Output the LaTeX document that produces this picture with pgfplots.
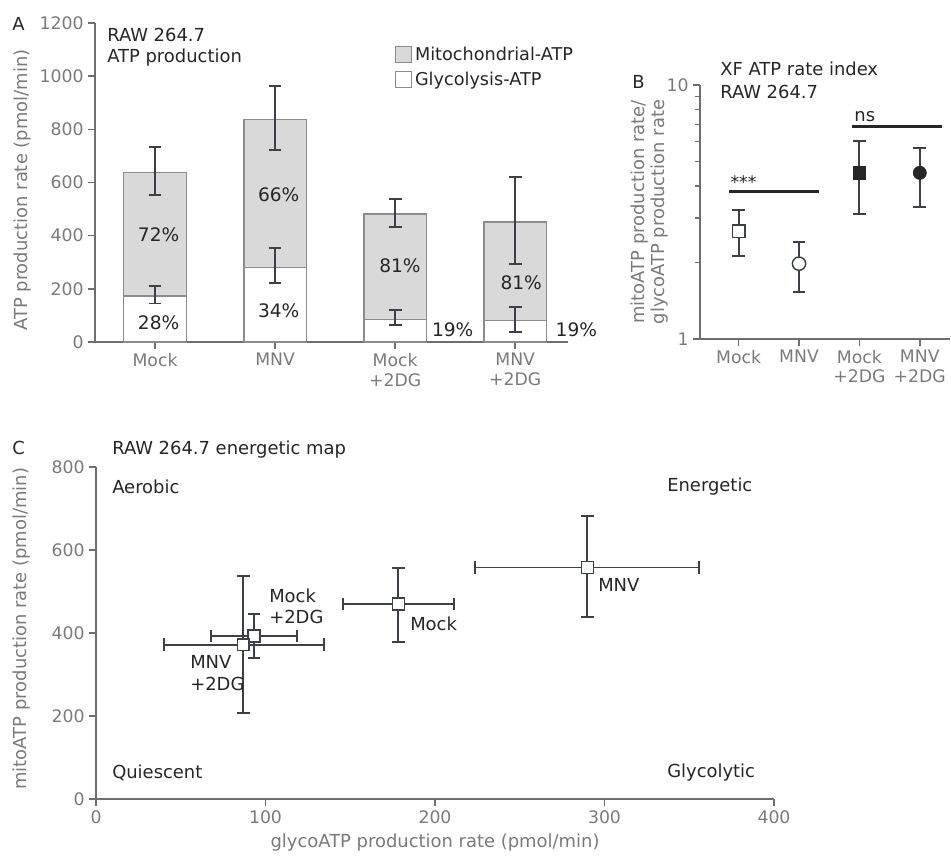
\documentclass[border=0pt]{standalone}
\usepackage{fontspec}
\setmainfont{DejaVu Sans}
\usepackage{pgfplots}
\pgfplotsset{compat=1.18}
\definecolor{axisgray}{HTML}{6E6E6E}
\definecolor{tickgray}{HTML}{7A7A7A}
\definecolor{barfill}{HTML}{D9D9D9}
\definecolor{barline}{HTML}{8C8C8C}
\definecolor{errc}{HTML}{3C4049}
\definecolor{txt}{HTML}{262626}
\newcommand\fs[2]{\fontsize{#1}{#2}\selectfont}

\pgfplotsset{
  panel/.style={
    scale only axis, clip=false,
    axis x line*=bottom, axis y line*=left,
    axis line style={draw=axisgray, line width=1.5pt},
    tick style={draw=axisgray, line width=1.2pt},
    tick align=outside, major tick length=5pt, minor tick length=3.5pt,
    ticklabel style={font=\fs{13}{16}, text=tickgray},
    label style={font=\fs{13.5}{15}, text=tickgray},
    /pgf/number format/assume math mode=true,
    /pgf/number format/1000 sep={},
  },
  errs/.style={
    error bars/.cd, y dir=both, y explicit,
    error bar style={draw=errc, line width=1.4pt},
    error mark options={rotate=90, draw=errc, line width=1.4pt, mark size=4.8pt},
  },
}

\begin{document}
\begin{tikzpicture}
\begin{scope}[x=0.75bp, y=-0.75bp]
\useasboundingbox (0,0) rectangle (951,858);
\coordinate (oA) at (95,342);
\coordinate (oB) at (700,339);
\coordinate (oC) at (96,799);
\end{scope}

% ---- A: stacked ATP production
\begin{axis}[panel,
  at={(oA)}, anchor=south west,
  width=354.75bp, height=239.25bp,
  xmin=0.5, xmax=4.44, ymin=0, ymax=1200,
  ytick={0,200,...,1200},
  xtick={1,2,3,4},
  xticklabels={Mock,MNV,{Mock\\+2DG},{MNV\\+2DG}},
  xticklabel style={align=center, font=\fs{13}{15}},
  ylabel={ATP production rate (pmol/min)},
  ylabel style={at={(axis description cs:-0.154,0.476)}, anchor=center},
  legend style={draw=none, fill=none, inner sep=0pt, at={(axis description cs:0.634,0.935)}, anchor=north west,
    font=\fs{13.3}{15}, text=txt, row sep=3.5bp,
    /tikz/every even column/.append style={column sep=5.5bp}},
  legend cell align=left,
]
\addplot[ybar, bar width=0.52, bar shift=0pt, fill=barfill, draw=barline, line width=1pt,
  legend image code/.code={\draw[fill=barfill, draw=barline, line width=0.9pt] (0pt,-6bp) rectangle (12bp,6bp);}]
  coordinates {(1,637) (2,838) (3,482) (4,451)};
\addlegendentry{Mitochondrial-ATP}
\addplot[ybar, bar width=0.52, bar shift=0pt, fill=white, draw=barline, line width=1pt,
  legend image code/.code={\draw[fill=white, draw=barline, line width=0.9pt] (0pt,-6bp) rectangle (12bp,6bp);}]
  coordinates {(1,173) (2,281) (3,85) (4,80)};
\addlegendentry{Glycolysis-ATP}
\addplot[forget plot, draw=none, mark=none, errs] coordinates {
  (1,637) += (0,98) -= (0,83)
  (2,838) += (0,124) -= (0,116)
  (3,482) += (0,55) -= (0,48)
  (4,451) += (0,171) -= (0,158)
  (1,173) += (0,38) -= (0,28)
  (2,281) += (0,74) -= (0,59)
  (3,85) += (0,35) -= (0,20)
  (4,80) += (0,52) -= (0,42)
};
\begin{scope}[font=\fs{14}{16}, text=txt]
\node at (axis cs:1.03,405) {72\%};
\node at (axis cs:1.03,72) {28\%};
\node at (axis cs:2.03,553) {66\%};
\node at (axis cs:2.03,117) {34\%};
\node at (axis cs:3.04,286) {81\%};
\node at (axis cs:3.48,45) {19\%};
\node at (axis cs:4.05,222) {81\%};
\node at (axis cs:4.51,45) {19\%};
\end{scope}
\end{axis}

% ---- B: rate index (log)
\begin{axis}[panel,
  at={(oB)}, anchor=south west,
  width=187.5bp, height=190.5bp,
  xmin=0.36, xmax=4.5, ymode=log, ymin=1, ymax=10,
  ytick={1,10}, yticklabels={1,10}, minor ytick={2,3,...,9},
  xtick={1,2,3,4},
  xticklabels={Mock,MNV,{Mock\\+2DG},{MNV\\+2DG}},
  xticklabel style={align=center, font=\fs{13}{14.5}},
  ylabel={mitoATP production rate/\\glycoATP production rate},
  ylabel style={align=center, font=\fs{13.5}{15}, at={(axis description cs:-0.2,0.5)}, anchor=center},
]
\addplot[only marks, mark=square*, mark size=4.7pt, mark options={fill=white, draw=errc, line width=1.1pt}, errs]
  coordinates {(1,2.66) += (0,0.56) -= (0,0.54)};
\addplot[only marks, mark=*, mark size=5pt, mark options={fill=white, draw=errc, line width=1.1pt}, errs]
  coordinates {(2,1.98) += (0,0.43) -= (0,0.445)};
\addplot[only marks, mark=square*, mark size=4.7pt, mark options={fill=txt, draw=txt}, errs]
  coordinates {(3,4.51) += (0,1.49) -= (0,1.41)};
\addplot[only marks, mark=*, mark size=5pt, mark options={fill=txt, draw=txt}, errs]
  coordinates {(4,4.51) += (0,1.15) -= (0,1.19)};
\draw[line width=2.2pt, txt] (axis cs:0.84,3.8) -- (axis cs:2.33,3.8);
\node[anchor=south west, inner sep=1pt, font=\fs{13}{15}, text=txt] at (axis cs:0.84,3.85) {***};
\draw[line width=2.2pt, txt] (axis cs:2.87,6.88) -- (axis cs:4.36,6.88);
\node[anchor=south west, inner sep=2pt, font=\fs{13.5}{15}, text=txt] at (axis cs:2.87,6.95) {ns};
\end{axis}

% ---- C: energetic map
\begin{axis}[panel,
  at={(oC)}, anchor=south west,
  width=508.5bp, height=249bp,
  xmin=0, xmax=400, ymin=0, ymax=800,
  xtick={0,100,...,400}, ytick={0,200,...,800},
  xlabel={glycoATP production rate (pmol/min)},
  xlabel style={at={(axis description cs:0.5,-0.1325)}, anchor=center},
  ylabel={mitoATP production rate (pmol/min)},
  ylabel style={at={(axis description cs:-0.11,0.513)}, anchor=center},
]
\addplot[only marks, mark=square*, mark size=4.4pt, mark options={fill=white, draw=errc, line width=1.1pt},
  error bars/.cd, x dir=both, x explicit, y dir=both, y explicit,
  error bar style={draw=errc, line width=1.4pt},
  error mark options={rotate=90, draw=errc, line width=1.4pt, mark size=4.8pt}]
  coordinates {
  (93.2,392.8) += (25.2,53) -= (25.6,53)
  (86.9,371.8) += (47.6,166.2) -= (46.8,164.8)
  (178.4,469.9) += (32.9,86.7) -= (32.6,91.6)
  (289.9,558) += (65.9,124.6) -= (66.5,118.7)
};
\end{axis}

% ---- texts
\begin{scope}[x=0.75bp, y=-0.75bp, font=\fs{13.5}{16}, text=txt]
\node[anchor=west, inner sep=0] at (12,24) {A};
\node[anchor=west, inner sep=0] at (632,82) {B};
\node[anchor=west, inner sep=0] at (12,448) {C};
\node[anchor=west, inner sep=0] at (107,35) {RAW 264.7};
\node[anchor=west, inner sep=0] at (107,58) {ATP production};
\node[anchor=west, inner sep=0] at (720,69) {XF ATP rate index};
\node[anchor=west, inner sep=0] at (720,92) {RAW 264.7};
\node[anchor=west, inner sep=0] at (112,450) {RAW 264.7 energetic map};
\node[anchor=west, inner sep=0] at (112,487) {Aerobic};
\node[anchor=west, inner sep=0] at (667,487) {Energetic};
\node[anchor=west, inner sep=0] at (112,773) {Quiescent};
\node[anchor=west, inner sep=0] at (667,773) {Glycolytic};
\node[anchor=west, inner sep=0, align=left, font=\fs{13.5}{16}] at (269,606) {Mock\\+2DG};
\node[anchor=west, inner sep=0, align=left, font=\fs{13.5}{17}] at (190,673) {MNV\\+2DG};
\node[anchor=west, inner sep=0] at (410,624) {Mock};
\node[anchor=west, inner sep=0] at (598,585) {MNV};
\end{scope}
\end{tikzpicture}
\end{document}
